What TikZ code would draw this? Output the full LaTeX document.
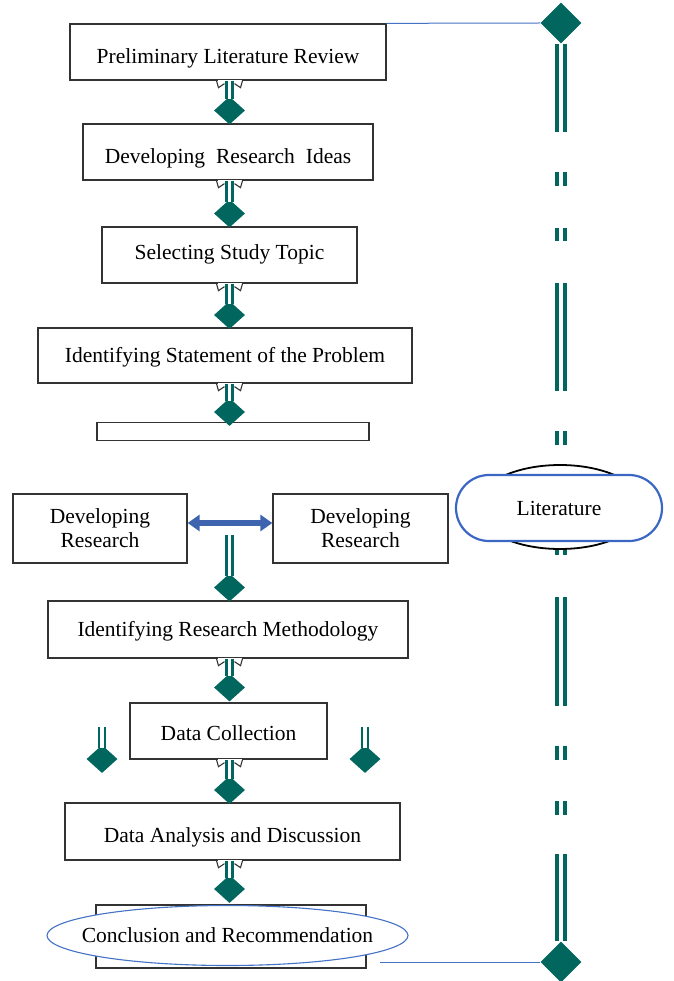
\documentclass[tikz,border=0pt]{standalone}
\usepackage{fontspec}
\setmainfont{Liberation Serif}
\usetikzlibrary{shapes.geometric,arrows.meta,calc}
\definecolor{tealc}{RGB}{0,102,94}
\definecolor{linkblue}{RGB}{68,114,196}
\definecolor{litblue}{RGB}{58,102,196}
\definecolor{arrblue}{RGB}{63,100,175}
\newcommand\fsz{\fontsize{21.5}{24}\selectfont}
\newcommand\notchat[1]{%
  \fill[white] ($(#1)+(-12,-1)$) rectangle ($(#1)+(12,1.2)$);
  \draw[notchline] ($(#1)+(-13,0)$) -- ($(#1)+(-11,7)$) -- ($(#1)+(-5,3)$);
  \draw[notchline] ($(#1)+(13,0)$) -- ($(#1)+(11,7)$) -- ($(#1)+(5,3)$);}
\begin{document}
\begin{tikzpicture}[x=1pt,y=-1pt,
  box/.style={draw=black!80, line width=1.3pt, fill=white, inner sep=0pt,
    font=\fsz, text height=16pt, text depth=2pt},
  box2/.style={draw=black!80, line width=1.3pt, fill=white, inner sep=0pt,
    font=\fsz, align=center},
  dia/.style={diamond, fill=tealc, draw=none, minimum width=31pt,
    minimum height=28pt, inner sep=0pt},
  bigdia/.style={diamond, fill=tealc, draw=none, minimum width=41pt,
    minimum height=41pt, inner sep=0pt},
  stem/.style={draw=tealc, line width=2.6pt, double=white, double distance=3.4pt},
  rline/.style={draw=tealc, line width=4pt, double=white, double distance=4.5pt,
    dash pattern=on 88.5pt off 40pt on 14pt off 42pt on 13pt off 42pt on 108pt off 40pt on 14pt off 96pt on 14pt off 42pt on 109pt off 40pt on 14pt off 41pt on 14pt off 39pt on 200pt},
  link/.style={draw=linkblue, line width=1pt},
  notchline/.style={draw=black!80, line width=1.1pt},
  darrow/.style={draw=arrblue, line width=5.5pt,
    {Triangle[length=12pt,width=16pt]}-{Triangle[length=12pt,width=16pt]}}
]
\useasboundingbox (0,0) rectangle (673,981);

% ---------- right column ----------
\node[bigdia] (dtop) at (561,23) {};
\node[bigdia] (dbot) at (561,962) {};
\draw[rline] (dtop.south) -- (dbot.north);
\node[ellipse, draw=black, line width=1.8pt, fill=white, minimum width=168pt,
  minimum height=84pt, inner sep=0pt] (litback) at (560,507) {};
\node[draw=litblue, line width=2.2pt, fill=white, rounded corners=33pt,
  minimum width=206pt, minimum height=66pt, inner sep=0pt, font=\fsz]
  (lit) at (559,508) {Literature};

% ---------- left column boxes ----------
\node[box, minimum width=316pt, minimum height=56pt, text height=26pt]
  (b1) at (228,52) {Preliminary Literature Review};
\node[box, minimum width=290pt, minimum height=56pt, text height=26pt]
  (b2) at (228,152) {Developing\hspace{11pt}Research\hspace{11pt}Ideas};
\node[box, minimum width=255pt, minimum height=56pt, text height=12pt]
  (b3) at (229.5,255) {Selecting Study Topic};
\node[box, minimum width=374pt, minimum height=55pt]
  (b4) at (225,355.5) {Identifying Statement of the Problem};
\node[box, minimum width=272pt, minimum height=11pt] (bar) at (233,431.5) {};
\node[box2, minimum width=174pt, minimum height=69pt]
  (dl) at (100,528.5) {Developing\\Research};
\node[box2, minimum width=175pt, minimum height=69pt]
  (dr) at (360.5,528.5) {Developing\\Research};
\node[box, minimum width=360pt, minimum height=57pt]
  (irm) at (228,629.5) {Identifying Research Methodology};
\node[box, minimum width=197pt, minimum height=56pt, text height=20pt]
  (dc) at (228.5,731) {Data Collection};
\node[box, minimum width=335pt, minimum height=57pt, text height=24pt]
  (da) at (232.5,831.5) {Data Analysis and Discussion};
\node[draw=black!80, line width=1.3pt, fill=white, minimum width=270pt,
  minimum height=63pt, inner sep=0pt] (crect) at (231,936.5) {};
\node[ellipse, draw=linkblue, line width=1.1pt, fill=white, minimum width=361pt,
  minimum height=60pt, inner sep=0pt] (concl) at (227.5,935.5) {};
\node[font=\fsz, inner sep=0pt] (concltext) at (concl.center)
  {Conclusion and Recommendation};

% ---------- diamonds ----------
\node[dia] (d1) at (229.5,110.5) {};
\node[dia] (d2) at (229.5,213.5) {};
\node[dia] (d3) at (229.5,315) {};
\node[dia] (d4) at (229.5,412) {};
\node[dia] (d5) at (229.5,587.5) {};
\node[dia] (d6) at (229.5,687.5) {};
\node[dia] (d7) at (229.5,790) {};
\node[dia] (d8) at (229.5,889) {};
\node[dia] (dsl) at (102,759) {};
\node[dia] (dsr) at (365,759) {};

% ---------- stems ----------
\coordinate (n1) at (b1.south -| d1.north);
\coordinate (n2) at (b2.south -| d2.north);
\coordinate (n3) at (b3.south -| d3.north);
\coordinate (n4) at (b4.south -| d4.north);
\coordinate (n6) at (irm.south -| d6.north);
\coordinate (n7) at (dc.south -| d7.north);
\coordinate (n8) at (da.south -| d8.north);
\coordinate (s5) at (229.5,535);
\coordinate (ssl) at (102,727);
\coordinate (ssr) at (365,727);

\foreach \n in {n1,n2,n3,n4,n6,n7,n8} {\notchat{\n}}

\draw[stem] (n1) -- ($(d1.north)+(0,3)$);
\draw[stem] (n2) -- ($(d2.north)+(0,3)$);
\draw[stem] (n3) -- ($(d3.north)+(0,3)$);
\draw[stem] (n4) -- ($(d4.north)+(0,3)$);
\draw[stem] (s5) -- ($(d5.north)+(0,3)$);
\draw[stem] (n6) -- ($(d6.north)+(0,3)$);
\draw[stem] (n7) -- ($(d7.north)+(0,3)$);
\draw[stem] (n8) -- ($(d8.north)+(0,3)$);
\draw[stem] (ssl) -- ($(dsl.north)+(0,3)$);
\draw[stem] (ssr) -- ($(dsr.north)+(0,3)$);

% ---------- double arrow ----------
\draw[darrow] ([yshift=5.5pt]dl.east) -- ([yshift=5.5pt]dr.west);

% ---------- blue links ----------
\draw[link] (b1.north east) -- (dtop.west);
\coordinate (cend) at (380,962);
\draw[link] (cend) -- (dbot.west);
\end{tikzpicture}
\end{document}
